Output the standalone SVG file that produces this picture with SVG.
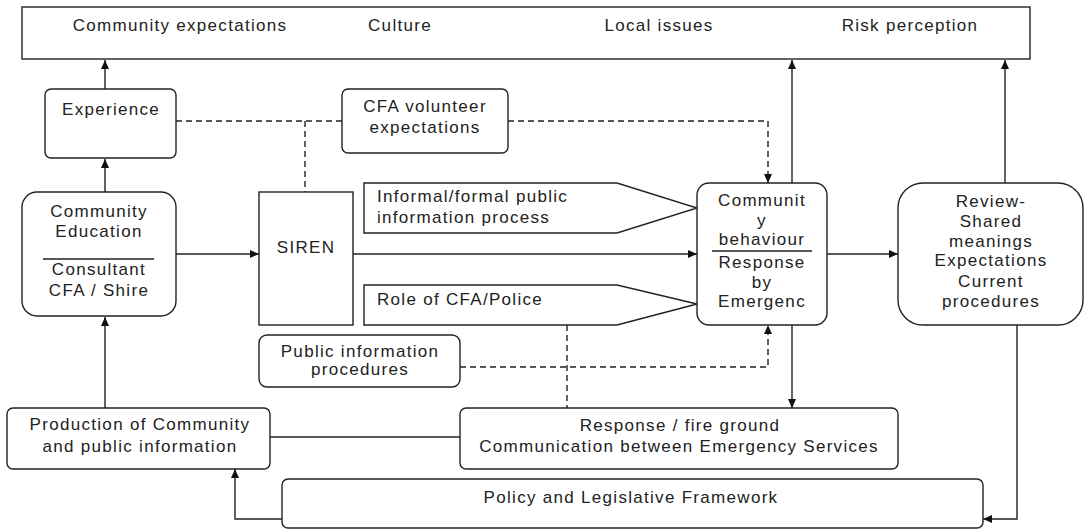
<svg xmlns="http://www.w3.org/2000/svg" width="1085" height="529" viewBox="0 0 1085 529">
<defs>
<style>
.box{fill:#fff;stroke:#222;stroke-width:1.4}
.ln{fill:none;stroke:#222;stroke-width:1.4}
.ds{fill:none;stroke:#222;stroke-width:1.4;stroke-dasharray:6 4}
text{font-family:"Liberation Sans",Arial,sans-serif;font-size:17px;letter-spacing:1.3px;fill:#222}
.c{text-anchor:middle}
</style>
<marker id="ah" markerWidth="9" markerHeight="8" refX="9" refY="4" orient="auto" markerUnits="userSpaceOnUse">
<path d="M0,0 L9,4 L0,8 z" fill="#111"/>
</marker>
</defs>
<rect width="1085" height="529" fill="#fff"/>

<g id="connectors">
<path class="ln" d="M105,89 L105,60" marker-end="url(#ah)"/>
<path class="ln" d="M105,192 L105,159" marker-end="url(#ah)"/>
<path class="ln" d="M105,408 L105,317" marker-end="url(#ah)"/>
<path class="ln" d="M176,254 L259,254" marker-end="url(#ah)"/>
<path class="ln" d="M353,254 L697,254" marker-end="url(#ah)"/>
<path class="ln" d="M827,254 L898,254" marker-end="url(#ah)"/>
<path class="ln" d="M792,183 L792,60" marker-end="url(#ah)"/>
<path class="ln" d="M1005,183 L1005,60" marker-end="url(#ah)"/>
<path class="ln" d="M792,325 L792,408" marker-end="url(#ah)"/>
<path class="ln" d="M1017,325 L1017,519 L983,519" marker-end="url(#ah)"/>
<path class="ln" d="M282,519 L235,519 L235,469" marker-end="url(#ah)"/>
<path class="ln" d="M270,437 L460,437"/>
<path class="ds" d="M176,121 L342,121"/>
<path class="ds" d="M305,121 L305,192"/>
<path class="ds" d="M508,121 L768,121 L768,183" marker-end="url(#ah)"/>
<path class="ds" d="M460,367 L768,367 L768,325" marker-end="url(#ah)"/>
<path class="ds" d="M567,325 L567,408"/>
</g>

<g id="top-context">
<rect class="box" x="22" y="7" width="1008" height="52" stroke-width="2"/>
<text class="c" x="180" y="31">Community expectations</text>
<text class="c" x="400" y="31">Culture</text>
<text class="c" x="659" y="31">Local issues</text>
<text class="c" x="910" y="31">Risk perception</text>
</g>

<g id="experience">
<rect class="box" x="45" y="89" width="131" height="69" rx="6"/>
<text x="62" y="115">Experience</text>
</g>

<g id="cfa-volunteer">
<rect class="box" x="342" y="89" width="166" height="64" rx="6"/>
<text class="c" x="425" y="112">CFA volunteer</text>
<text class="c" x="425" y="133">expectations</text>
</g>

<g id="community-education">
<rect class="box" x="22" y="192" width="154" height="124" rx="15"/>
<text class="c" x="99" y="217">Community</text>
<text class="c" x="99" y="237">Education</text>
<line class="ln" x1="43" y1="259" x2="154" y2="259"/>
<text class="c" x="99" y="275">Consultant</text>
<text class="c" x="99" y="296">CFA / Shire</text>
</g>

<g id="siren">
<rect class="box" x="259" y="192" width="94" height="133"/>
<text class="c" x="306" y="253">SIREN</text>
</g>

<g id="informal-process">
<polygon class="box" points="364,183 617,183 697,208 617,233 364,233"/>
<text x="377" y="202">Informal/formal public</text>
<text x="377" y="223">information process</text>
</g>

<g id="role-cfa">
<polygon class="box" points="364,285 617,285 697,304 617,325 364,325"/>
<text x="377" y="305">Role of CFA/Police</text>
</g>

<g id="community-behaviour">
<rect class="box" x="697" y="183" width="130" height="142" rx="12"/>
<text class="c" x="762" y="206">Communit</text>
<text class="c" x="762" y="226">y</text>
<text class="c" x="762" y="245">behaviour</text>
<line class="ln" x1="712" y1="251" x2="812" y2="251"/>
<text class="c" x="762" y="268">Response</text>
<text class="c" x="762" y="288">by</text>
<text class="c" x="762" y="307">Emergenc</text>
</g>

<g id="review">
<rect class="box" x="898" y="183" width="185" height="142" rx="25"/>
<text class="c" x="991" y="207">Review-</text>
<text class="c" x="991" y="227">Shared</text>
<text class="c" x="991" y="247">meanings</text>
<text class="c" x="991" y="266">Expectations</text>
<text class="c" x="991" y="287">Current</text>
<text class="c" x="991" y="307">procedures</text>
</g>

<g id="public-info-procedures">
<rect class="box" x="259" y="335" width="201" height="52" rx="8"/>
<text class="c" x="360" y="357">Public information</text>
<text class="c" x="360" y="375">procedures</text>
</g>

<g id="production">
<rect class="box" x="7" y="408" width="263" height="61" rx="6"/>
<text class="c" x="140" y="430">Production of Community</text>
<text class="c" x="140" y="452">and public information</text>
</g>

<g id="response">
<rect class="box" x="460" y="408" width="438" height="61" rx="6"/>
<text class="c" x="680" y="431">Response / fire ground</text>
<text class="c" x="679" y="452">Communication between Emergency Services</text>
</g>

<g id="policy">
<rect class="box" x="282" y="479" width="701" height="49" rx="6"/>
<text class="c" x="631" y="503">Policy and Legislative Framework</text>
</g>
</svg>
